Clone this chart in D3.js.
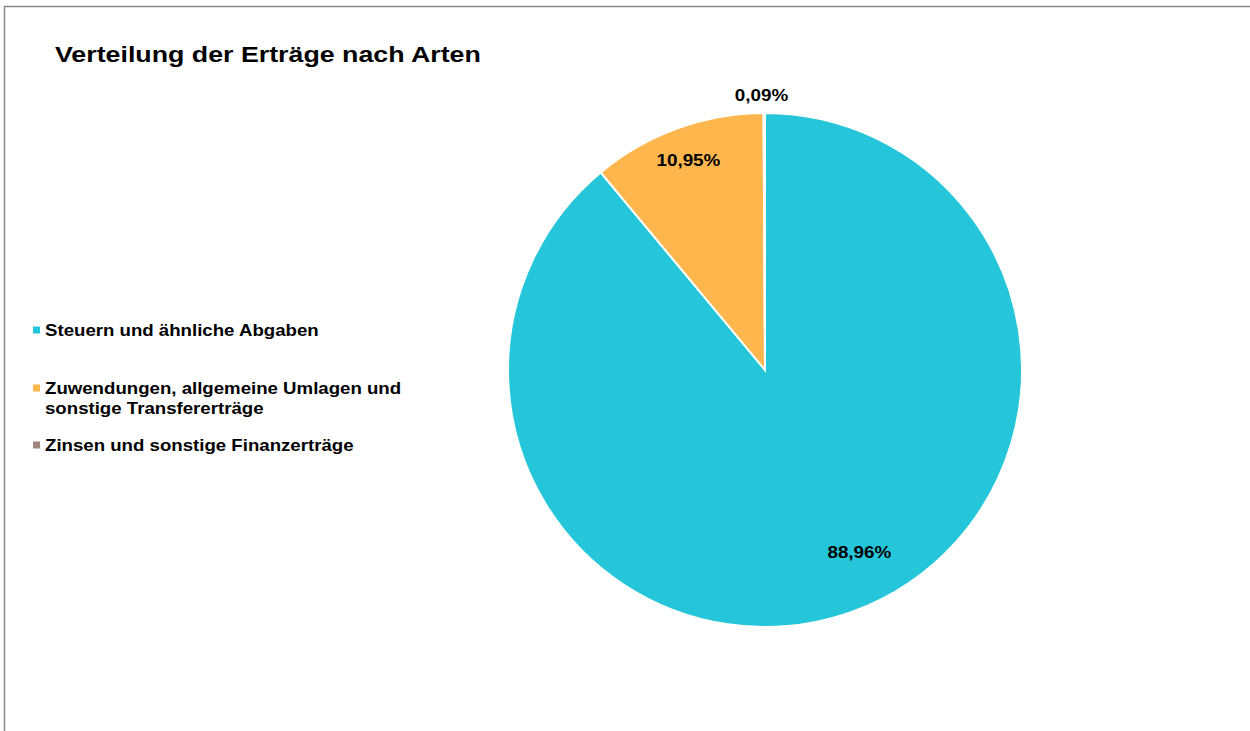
<!DOCTYPE html>
<html><head><meta charset="utf-8">
<script src="https://cdn.jsdelivr.net/npm/d3@7/dist/d3.min.js"></script>
<style>
html,body{margin:0;padding:0;background:#fff;}
svg{display:block;font-family:"Liberation Sans",Arial,sans-serif;}
</style></head>
<body>
<svg id="chart" width="1250" height="731"></svg>
<script>
const categories = ["Steuern und ähnliche Abgaben", "Zuwendungen, allgemeine Umlagen und sonstige Transfererträge", "Zinsen und sonstige Finanzerträge"];
const legendLines = [["Steuern und ähnliche Abgaben"], ["Zuwendungen, allgemeine Umlagen und", "sonstige Transfererträge"], ["Zinsen und sonstige Finanzerträge"]];
const values = [88.96, 10.95, 0.09];
const valueLabels = ["88,96%", "10,95%", "0,09%"];
const colors = ["#26C6DA", "#FFB74D", "#A1887F"];
const title = "Verteilung der Erträge nach Arten";

const svg = d3.select("#chart");
svg.append("path").attr("d", "M4.5,731 V6.5 H1250").attr("fill", "none").attr("stroke", "#888").attr("stroke-width", 1.5);

function stext(parent, x, y, sx, size, txt, anchor, baseline) {
  const t = parent.append("text").attr("transform", `translate(${x},${y}) scale(${sx},1)`)
    .attr("font-size", size).attr("font-weight", "bold").attr("fill", "#000")
    .attr("text-anchor", anchor || "start").text(txt);
  if (baseline) t.attr("dominant-baseline", baseline);
  return t;
}

stext(svg, 55, 62, 1.19, 22.5, title);

const cx = 765, cy = 370, r = 257;
const pie = d3.pie().sort(null).value(d => d)(values);
const arc = d3.arc().innerRadius(0).outerRadius(r);
const g = svg.append("g").attr("transform", `translate(${cx},${cy})`);
g.selectAll("path.slice").data(pie).join("path").attr("class", "slice")
  .attr("d", arc).attr("fill", (d, i) => colors[i]).attr("stroke", "#fff").attr("stroke-width", 2);

const labelRad = [0.80, 0.87, 1.07];
const labelAngleShift = [-0.13, 0, -0.01];
pie.forEach((d, i) => {
  const a = (d.startAngle + d.endAngle) / 2 + labelAngleShift[i];
  const rr = r * labelRad[i];
  stext(g, rr * Math.sin(a), -rr * Math.cos(a), 1.11, 17, valueLabels[i], "middle", "central");
});

const legendY = [330, 388, 445];
const lg = svg.append("g");
legendLines.forEach((lines, i) => {
  lg.append("rect").attr("x", 33).attr("y", legendY[i] - 3.5).attr("width", 7).attr("height", 7).attr("fill", colors[i]);
  lines.forEach((t, j) => {
    stext(lg, 45, legendY[i] + j * 20, 1.13, 16.5, t, "start", "central");
  });
});
</script>
</body></html>
